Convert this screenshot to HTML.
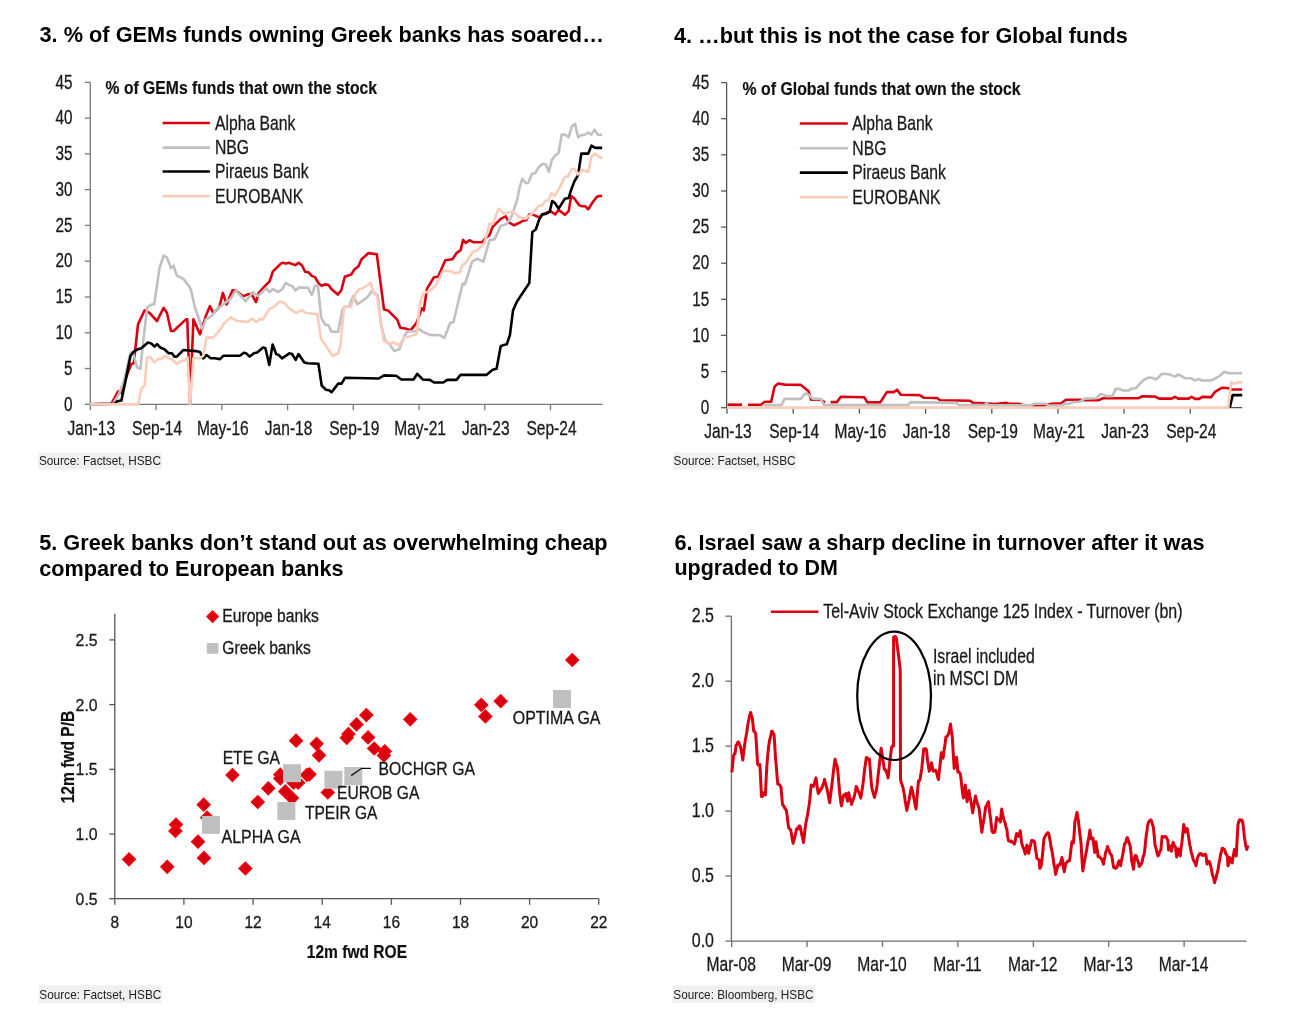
<!DOCTYPE html>
<html><head><meta charset="utf-8"><title>Greek banks charts</title>
<style>
html,body{margin:0;padding:0;background:#fff;}
body{width:1298px;height:1028px;overflow:hidden;}
svg{display:block;font-family:"Liberation Sans",Arial,sans-serif;}
</style></head>
<body>
<svg width="1298" height="1028" viewBox="0 0 1298 1028">
<rect width="1298" height="1028" fill="#fff"/>
<text x="39.5" y="42.3" font-size="21.7" font-weight="bold" text-anchor="start" textLength="564.4" lengthAdjust="spacingAndGlyphs" fill="#000">3. % of GEMs funds owning Greek banks has soared…</text>
<text x="674.0" y="42.7" font-size="21.7" font-weight="bold" text-anchor="start" textLength="453.8" lengthAdjust="spacingAndGlyphs" fill="#000">4. …but this is not the case for Global funds</text>
<text x="39.2" y="550.3" font-size="21.7" font-weight="bold" text-anchor="start" textLength="568.4" lengthAdjust="spacingAndGlyphs" fill="#000">5. Greek banks don’t stand out as overwhelming cheap</text>
<text x="39.2" y="575.5" font-size="21.7" font-weight="bold" text-anchor="start" textLength="304.3" lengthAdjust="spacingAndGlyphs" fill="#000">compared to European banks</text>
<text x="674.4" y="550.1" font-size="21.7" font-weight="bold" text-anchor="start" textLength="530.2" lengthAdjust="spacingAndGlyphs" fill="#000">6. Israel saw a sharp decline in turnover after it was</text>
<text x="674.4" y="575.4" font-size="21.7" font-weight="bold" text-anchor="start" textLength="163.5" lengthAdjust="spacingAndGlyphs" fill="#000">upgraded to DM</text>
<line x1="90.3" y1="82.3" x2="90.3" y2="404.3" stroke="#7a7a7a" stroke-width="1.3"/>
<line x1="90.3" y1="404.3" x2="602.6" y2="404.3" stroke="#7a7a7a" stroke-width="1.3"/>
<line x1="84.8" y1="82.3" x2="90.3" y2="82.3" stroke="#7a7a7a" stroke-width="1.3"/>
<text x="72.6" y="88.5" font-size="19.72" text-anchor="end" textLength="17.0" lengthAdjust="spacingAndGlyphs" fill="#1a1a1a" stroke="#1a1a1a" stroke-width="0.3">45</text>
<line x1="84.8" y1="118.1" x2="90.3" y2="118.1" stroke="#7a7a7a" stroke-width="1.3"/>
<text x="72.6" y="124.3" font-size="19.72" text-anchor="end" textLength="17.0" lengthAdjust="spacingAndGlyphs" fill="#1a1a1a" stroke="#1a1a1a" stroke-width="0.3">40</text>
<line x1="84.8" y1="153.9" x2="90.3" y2="153.9" stroke="#7a7a7a" stroke-width="1.3"/>
<text x="72.6" y="160.1" font-size="19.72" text-anchor="end" textLength="17.0" lengthAdjust="spacingAndGlyphs" fill="#1a1a1a" stroke="#1a1a1a" stroke-width="0.3">35</text>
<line x1="84.8" y1="189.6" x2="90.3" y2="189.6" stroke="#7a7a7a" stroke-width="1.3"/>
<text x="72.6" y="195.8" font-size="19.72" text-anchor="end" textLength="17.0" lengthAdjust="spacingAndGlyphs" fill="#1a1a1a" stroke="#1a1a1a" stroke-width="0.3">30</text>
<line x1="84.8" y1="225.4" x2="90.3" y2="225.4" stroke="#7a7a7a" stroke-width="1.3"/>
<text x="72.6" y="231.6" font-size="19.72" text-anchor="end" textLength="17.0" lengthAdjust="spacingAndGlyphs" fill="#1a1a1a" stroke="#1a1a1a" stroke-width="0.3">25</text>
<line x1="84.8" y1="261.2" x2="90.3" y2="261.2" stroke="#7a7a7a" stroke-width="1.3"/>
<text x="72.6" y="267.4" font-size="19.72" text-anchor="end" textLength="17.0" lengthAdjust="spacingAndGlyphs" fill="#1a1a1a" stroke="#1a1a1a" stroke-width="0.3">20</text>
<line x1="84.8" y1="297.0" x2="90.3" y2="297.0" stroke="#7a7a7a" stroke-width="1.3"/>
<text x="72.6" y="303.2" font-size="19.72" text-anchor="end" textLength="17.0" lengthAdjust="spacingAndGlyphs" fill="#1a1a1a" stroke="#1a1a1a" stroke-width="0.3">15</text>
<line x1="84.8" y1="332.8" x2="90.3" y2="332.8" stroke="#7a7a7a" stroke-width="1.3"/>
<text x="72.6" y="339.0" font-size="19.72" text-anchor="end" textLength="17.0" lengthAdjust="spacingAndGlyphs" fill="#1a1a1a" stroke="#1a1a1a" stroke-width="0.3">10</text>
<line x1="84.8" y1="368.5" x2="90.3" y2="368.5" stroke="#7a7a7a" stroke-width="1.3"/>
<text x="72.6" y="374.7" font-size="19.72" text-anchor="end" textLength="8.5" lengthAdjust="spacingAndGlyphs" fill="#1a1a1a" stroke="#1a1a1a" stroke-width="0.3">5</text>
<line x1="84.8" y1="404.3" x2="90.3" y2="404.3" stroke="#7a7a7a" stroke-width="1.3"/>
<text x="72.6" y="410.5" font-size="19.72" text-anchor="end" textLength="8.5" lengthAdjust="spacingAndGlyphs" fill="#1a1a1a" stroke="#1a1a1a" stroke-width="0.3">0</text>
<line x1="90.3" y1="404.3" x2="90.3" y2="410.3" stroke="#7a7a7a" stroke-width="1.3"/>
<text x="91.3" y="434.5" font-size="19.53" text-anchor="middle" textLength="47.5" lengthAdjust="spacingAndGlyphs" fill="#1a1a1a" stroke="#1a1a1a" stroke-width="0.3">Jan-13</text>
<line x1="156.1" y1="404.3" x2="156.1" y2="410.3" stroke="#7a7a7a" stroke-width="1.3"/>
<text x="157.1" y="434.5" font-size="19.53" text-anchor="middle" textLength="50.1" lengthAdjust="spacingAndGlyphs" fill="#1a1a1a" stroke="#1a1a1a" stroke-width="0.3">Sep-14</text>
<line x1="221.8" y1="404.3" x2="221.8" y2="410.3" stroke="#7a7a7a" stroke-width="1.3"/>
<text x="222.8" y="434.5" font-size="19.53" text-anchor="middle" textLength="51.8" lengthAdjust="spacingAndGlyphs" fill="#1a1a1a" stroke="#1a1a1a" stroke-width="0.3">May-16</text>
<line x1="287.6" y1="404.3" x2="287.6" y2="410.3" stroke="#7a7a7a" stroke-width="1.3"/>
<text x="288.6" y="434.5" font-size="19.53" text-anchor="middle" textLength="47.5" lengthAdjust="spacingAndGlyphs" fill="#1a1a1a" stroke="#1a1a1a" stroke-width="0.3">Jan-18</text>
<line x1="353.3" y1="404.3" x2="353.3" y2="410.3" stroke="#7a7a7a" stroke-width="1.3"/>
<text x="354.3" y="434.5" font-size="19.53" text-anchor="middle" textLength="50.1" lengthAdjust="spacingAndGlyphs" fill="#1a1a1a" stroke="#1a1a1a" stroke-width="0.3">Sep-19</text>
<line x1="419.1" y1="404.3" x2="419.1" y2="410.3" stroke="#7a7a7a" stroke-width="1.3"/>
<text x="420.1" y="434.5" font-size="19.53" text-anchor="middle" textLength="51.8" lengthAdjust="spacingAndGlyphs" fill="#1a1a1a" stroke="#1a1a1a" stroke-width="0.3">May-21</text>
<line x1="484.8" y1="404.3" x2="484.8" y2="410.3" stroke="#7a7a7a" stroke-width="1.3"/>
<text x="485.8" y="434.5" font-size="19.53" text-anchor="middle" textLength="47.5" lengthAdjust="spacingAndGlyphs" fill="#1a1a1a" stroke="#1a1a1a" stroke-width="0.3">Jan-23</text>
<line x1="550.5" y1="404.3" x2="550.5" y2="410.3" stroke="#7a7a7a" stroke-width="1.3"/>
<text x="551.5" y="434.5" font-size="19.53" text-anchor="middle" textLength="50.1" lengthAdjust="spacingAndGlyphs" fill="#1a1a1a" stroke="#1a1a1a" stroke-width="0.3">Sep-24</text>
<text x="105.6" y="94.3" font-size="18.06" font-weight="bold" text-anchor="start" textLength="271.4" lengthAdjust="spacingAndGlyphs" fill="#111" stroke="#111" stroke-width="0.2">% of GEMs funds that own the stock</text>
<line x1="162.6" y1="123.0" x2="209.9" y2="123.0" stroke="#db0011" stroke-width="2.6"/>
<text x="215.0" y="129.7" font-size="19.53" text-anchor="start" textLength="80.4" lengthAdjust="spacingAndGlyphs" fill="#1a1a1a" stroke="#1a1a1a" stroke-width="0.3">Alpha Bank</text>
<line x1="162.6" y1="147.6" x2="209.9" y2="147.6" stroke="#c0c0c0" stroke-width="2.6"/>
<text x="215.0" y="154.1" font-size="19.53" text-anchor="start" textLength="34.1" lengthAdjust="spacingAndGlyphs" fill="#1a1a1a" stroke="#1a1a1a" stroke-width="0.3">NBG</text>
<line x1="162.6" y1="171.5" x2="209.9" y2="171.5" stroke="#000000" stroke-width="2.6"/>
<text x="215.0" y="178.4" font-size="19.53" text-anchor="start" textLength="93.5" lengthAdjust="spacingAndGlyphs" fill="#1a1a1a" stroke="#1a1a1a" stroke-width="0.3">Piraeus Bank</text>
<line x1="162.6" y1="196.1" x2="209.9" y2="196.1" stroke="#f9cdb9" stroke-width="2.6"/>
<text x="215.0" y="202.7" font-size="19.53" text-anchor="start" textLength="88.2" lengthAdjust="spacingAndGlyphs" fill="#1a1a1a" stroke="#1a1a1a" stroke-width="0.3">EUROBANK</text>
<rect x="38.4" y="452.6" width="123.4" height="17.0" fill="#f0f0f0"/>
<text x="38.9" y="465.3" font-size="13" text-anchor="start" textLength="122.1" lengthAdjust="spacingAndGlyphs" fill="#222">Source: Factset, HSBC</text>
<g>
<polyline points="90.0,404.2 111.5,403.7 118.1,391.3 121.0,393.0 125.0,380.0 131.3,364.0 133.8,363.2 138.0,324.4 144.6,310.3 149.5,312.8 157.0,321.0 163.6,307.8 166.9,312.8 171.0,331.0 173.5,331.0 186.0,319.4 187.3,319.4 190.1,403.7 193.4,319.4 200.0,334.3 205.8,316.1 209.9,306.2 213.2,312.8 219.1,307.8 222.9,292.9 226.6,304.5 232.4,290.4 235.7,290.4 243.1,296.2 247.3,294.6 251.4,293.8 256.0,302.0 258.8,292.9 264.6,286.3 269.6,281.3 272.9,271.4 280.0,264.5 282.3,262.8 285.8,263.6 288.8,262.8 295.2,265.1 298.7,262.8 302.2,265.7 305.1,271.8 308.6,272.4 311.8,275.9 315.0,277.1 318.5,283.2 321.7,285.8 325.0,284.4 328.5,285.0 331.4,289.0 337.8,294.6 341.3,290.2 344.8,276.8 351.2,274.6 354.3,269.5 358.4,266.4 361.5,259.3 368.6,253.1 376.8,254.2 384.0,309.4 388.0,310.4 397.2,319.6 400.3,327.8 406.4,328.8 410.5,330.4 416.7,322.6 421.8,308.3 423.8,310.4 426.9,288.9 434.0,277.3 438.1,276.7 445.3,260.3 452.4,259.3 456.5,253.1 460.6,250.1 463.1,239.9 465.7,242.9 469.5,240.2 473.2,242.2 482.3,242.2 485.4,238.2 489.5,235.1 492.6,226.9 500.7,218.8 505.8,216.3 508.9,222.4 514.0,225.3 520.0,222.5 523.2,220.6 526.3,220.2 529.5,214.3 532.6,214.3 539.0,217.4 543.4,214.3 550.3,211.1 555.4,214.3 558.6,209.9 564.9,214.7 568.7,211.1 571.2,196.0 574.4,198.5 578.8,204.8 581.9,206.3 585.1,206.3 588.3,209.2 592.7,202.3 596.5,197.2 599.0,196.0 602.2,196.0" fill="none" stroke="#db0011" stroke-width="2.6" stroke-linejoin="round" stroke-linecap="butt"/>
<polyline points="90.0,404.2 113.2,403.7 119.0,393.8 124.0,380.6 130.5,352.5 133.0,352.5 137.1,367.4 140.4,369.0 142.9,344.2 147.1,307.8 151.2,304.5 154.2,304.5 159.5,268.1 163.6,255.7 166.9,257.4 171.0,268.1 173.5,265.6 176.8,275.6 183.4,278.9 189.2,286.3 190.9,289.6 195.0,307.8 202.5,329.3 205.8,319.4 211.6,316.1 215.0,311.1 224.9,302.9 230.7,298.7 235.7,290.4 245.6,301.2 253.0,292.1 258.0,296.2 266.3,288.0 269.6,292.1 272.9,288.8 277.9,292.1 282.3,289.0 285.8,282.9 289.3,285.2 292.3,286.1 295.5,290.5 298.7,287.6 308.0,287.6 311.8,294.9 315.0,285.8 317.9,285.8 321.2,317.7 325.0,324.4 328.3,325.2 331.6,331.8 338.2,331.8 342.4,309.5 345.1,306.3 349.2,306.3 353.3,296.1 357.4,304.3 367.6,297.1 371.7,291.0 377.8,295.1 380.9,324.7 385.0,340.0 390.1,345.1 394.2,350.9 399.3,349.2 404.4,335.9 407.5,331.2 415.6,331.2 419.7,329.2 422.8,331.8 429.9,334.9 440.2,335.3 444.3,338.0 450.4,322.6 453.4,322.2 462.6,283.8 465.0,284.1 472.1,261.6 477.2,258.6 483.4,261.6 489.5,240.2 494.6,239.2 500.7,225.9 506.8,223.9 511.9,215.7 517.0,200.4 520.0,185.8 522.3,178.9 525.7,183.1 528.2,182.7 532.0,173.8 535.2,173.2 539.0,166.9 542.8,163.7 545.9,164.4 548.8,171.9 551.6,160.6 554.8,156.1 558.6,153.0 561.7,134.6 564.9,134.6 568.7,137.2 571.8,126.4 575.0,123.9 578.1,137.2 581.3,135.0 584.5,135.0 588.3,132.5 591.4,134.6 594.6,129.6 597.7,134.6 602.2,135.0" fill="none" stroke="#c0c0c0" stroke-width="2.6" stroke-linejoin="round" stroke-linecap="butt"/>
<polyline points="90.0,404.2 114.8,403.7 117.3,401.3 121.4,400.4 125.6,380.6 130.5,355.8 133.8,351.6 138.0,349.2 141.3,348.3 147.9,342.5 151.2,343.4 154.5,346.7 157.0,344.2 160.3,347.5 164.4,349.2 168.6,353.3 171.9,353.3 174.4,356.6 176.8,356.6 183.4,350.0 195.9,351.1 200.0,352.1 203.3,358.3 206.6,355.0 210.7,358.3 215.0,358.3 220.0,359.1 223.3,355.8 239.8,355.8 243.9,352.8 246.0,353.3 249.7,356.6 253.9,353.3 257.2,352.5 263.0,347.5 265.4,348.3 269.3,364.9 272.6,344.5 276.2,354.1 278.7,355.0 282.0,358.3 289.4,353.3 292.0,354.0 295.7,359.9 298.5,354.1 304.3,362.4 307.6,363.2 318.4,363.7 321.7,385.5 325.8,389.7 329.1,390.2 331.6,392.2 338.2,383.6 341.5,383.6 345.1,377.8 378.8,378.5 384.0,375.4 396.2,375.8 401.3,379.5 413.6,379.5 417.3,373.8 422.8,379.5 429.9,379.9 434.0,382.5 443.2,382.5 447.3,379.9 456.5,379.9 460.6,374.8 486.4,374.9 492.6,369.8 496.6,368.8 500.7,346.3 503.8,344.9 506.8,344.3 509.9,335.1 513.0,310.6 517.0,301.4 529.3,283.1 532.3,232.0 535.8,229.5 539.0,220.0 542.1,214.3 545.9,213.9 549.7,211.8 552.2,201.0 554.8,202.9 558.6,208.6 564.9,198.7 568.7,197.9 571.2,189.6 574.4,181.4 578.1,175.1 581.3,153.6 588.3,153.6 591.4,145.6 595.2,147.9 602.2,147.9" fill="none" stroke="#000000" stroke-width="2.6" stroke-linejoin="round" stroke-linecap="butt"/>
<polyline points="90.0,404.4 138.0,404.4 141.3,388.9 144.6,385.5 147.1,357.4 150.4,357.4 154.5,362.4 157.8,359.1 161.0,359.1 165.3,355.8 168.5,358.0 172.7,359.9 176.8,364.0 180.1,361.6 185.1,359.9 187.6,357.4 190.1,404.4 193.4,358.3 200.0,358.3 203.3,355.8 206.6,337.6 213.2,337.6 219.1,331.0 224.1,323.5 230.7,317.4 237.3,321.0 248.1,321.9 252.2,318.6 256.3,321.9 259.7,319.4 263.0,319.4 269.6,308.6 272.9,307.8 279.5,301.5 284.5,302.9 288.6,307.8 296.0,312.8 301.8,310.3 305.1,312.8 317.5,314.4 320.9,338.4 325.8,345.9 332.4,355.8 338.2,353.3 340.5,345.0 344.1,306.3 346.1,306.3 351.2,307.3 355.3,294.0 359.4,288.9 363.5,287.9 370.7,282.8 373.7,294.0 376.8,295.1 383.9,341.0 390.1,344.1 393.1,342.1 399.3,345.5 404.4,337.0 409.5,336.5 416.7,333.9 418.7,314.5 420.7,300.2 423.8,293.0 430.0,291.0 436.1,284.8 443.2,270.5 451.4,271.5 454.5,273.2 459.6,272.6 462.6,265.0 465.0,263.7 473.2,251.4 477.2,250.4 484.4,243.3 489.5,223.9 492.6,223.9 498.7,208.6 503.8,213.7 506.8,212.7 513.0,211.6 520.0,217.4 525.7,218.7 532.6,213.0 538.3,206.1 542.1,205.4 545.3,200.8 548.4,200.4 551.6,193.2 554.8,196.0 559.2,188.4 564.9,177.0 568.0,176.4 571.8,168.8 575.0,169.4 578.1,174.5 581.9,170.0 588.3,171.9 591.4,156.8 594.6,153.6 602.2,158.7" fill="none" stroke="#f9cdb9" stroke-width="2.6" stroke-linejoin="round" stroke-linecap="butt"/>
</g>
<line x1="726.6" y1="82.6" x2="726.6" y2="407.7" stroke="#555555" stroke-width="1.3"/>
<line x1="726.6" y1="407.7" x2="1242.2" y2="407.7" stroke="#555555" stroke-width="1.3"/>
<line x1="721.1" y1="82.6" x2="726.6" y2="82.6" stroke="#555555" stroke-width="1.3"/>
<text x="709.3" y="88.8" font-size="19.72" text-anchor="end" textLength="17.0" lengthAdjust="spacingAndGlyphs" fill="#1a1a1a" stroke="#1a1a1a" stroke-width="0.3">45</text>
<line x1="721.1" y1="118.7" x2="726.6" y2="118.7" stroke="#555555" stroke-width="1.3"/>
<text x="709.3" y="124.9" font-size="19.72" text-anchor="end" textLength="17.0" lengthAdjust="spacingAndGlyphs" fill="#1a1a1a" stroke="#1a1a1a" stroke-width="0.3">40</text>
<line x1="721.1" y1="154.8" x2="726.6" y2="154.8" stroke="#555555" stroke-width="1.3"/>
<text x="709.3" y="161.0" font-size="19.72" text-anchor="end" textLength="17.0" lengthAdjust="spacingAndGlyphs" fill="#1a1a1a" stroke="#1a1a1a" stroke-width="0.3">35</text>
<line x1="721.1" y1="191.0" x2="726.6" y2="191.0" stroke="#555555" stroke-width="1.3"/>
<text x="709.3" y="197.2" font-size="19.72" text-anchor="end" textLength="17.0" lengthAdjust="spacingAndGlyphs" fill="#1a1a1a" stroke="#1a1a1a" stroke-width="0.3">30</text>
<line x1="721.1" y1="227.1" x2="726.6" y2="227.1" stroke="#555555" stroke-width="1.3"/>
<text x="709.3" y="233.3" font-size="19.72" text-anchor="end" textLength="17.0" lengthAdjust="spacingAndGlyphs" fill="#1a1a1a" stroke="#1a1a1a" stroke-width="0.3">25</text>
<line x1="721.1" y1="263.2" x2="726.6" y2="263.2" stroke="#555555" stroke-width="1.3"/>
<text x="709.3" y="269.4" font-size="19.72" text-anchor="end" textLength="17.0" lengthAdjust="spacingAndGlyphs" fill="#1a1a1a" stroke="#1a1a1a" stroke-width="0.3">20</text>
<line x1="721.1" y1="299.3" x2="726.6" y2="299.3" stroke="#555555" stroke-width="1.3"/>
<text x="709.3" y="305.5" font-size="19.72" text-anchor="end" textLength="17.0" lengthAdjust="spacingAndGlyphs" fill="#1a1a1a" stroke="#1a1a1a" stroke-width="0.3">15</text>
<line x1="721.1" y1="335.4" x2="726.6" y2="335.4" stroke="#555555" stroke-width="1.3"/>
<text x="709.3" y="341.6" font-size="19.72" text-anchor="end" textLength="17.0" lengthAdjust="spacingAndGlyphs" fill="#1a1a1a" stroke="#1a1a1a" stroke-width="0.3">10</text>
<line x1="721.1" y1="371.6" x2="726.6" y2="371.6" stroke="#555555" stroke-width="1.3"/>
<text x="709.3" y="377.8" font-size="19.72" text-anchor="end" textLength="8.5" lengthAdjust="spacingAndGlyphs" fill="#1a1a1a" stroke="#1a1a1a" stroke-width="0.3">5</text>
<line x1="721.1" y1="407.7" x2="726.6" y2="407.7" stroke="#555555" stroke-width="1.3"/>
<text x="709.3" y="413.9" font-size="19.72" text-anchor="end" textLength="8.5" lengthAdjust="spacingAndGlyphs" fill="#1a1a1a" stroke="#1a1a1a" stroke-width="0.3">0</text>
<line x1="727.0" y1="407.7" x2="727.0" y2="413.7" stroke="#555555" stroke-width="1.3"/>
<text x="728.0" y="438.0" font-size="19.53" text-anchor="middle" textLength="47.5" lengthAdjust="spacingAndGlyphs" fill="#1a1a1a" stroke="#1a1a1a" stroke-width="0.3">Jan-13</text>
<line x1="793.2" y1="407.7" x2="793.2" y2="413.7" stroke="#555555" stroke-width="1.3"/>
<text x="794.2" y="438.0" font-size="19.53" text-anchor="middle" textLength="50.1" lengthAdjust="spacingAndGlyphs" fill="#1a1a1a" stroke="#1a1a1a" stroke-width="0.3">Sep-14</text>
<line x1="859.4" y1="407.7" x2="859.4" y2="413.7" stroke="#555555" stroke-width="1.3"/>
<text x="860.4" y="438.0" font-size="19.53" text-anchor="middle" textLength="51.8" lengthAdjust="spacingAndGlyphs" fill="#1a1a1a" stroke="#1a1a1a" stroke-width="0.3">May-16</text>
<line x1="925.6" y1="407.7" x2="925.6" y2="413.7" stroke="#555555" stroke-width="1.3"/>
<text x="926.6" y="438.0" font-size="19.53" text-anchor="middle" textLength="47.5" lengthAdjust="spacingAndGlyphs" fill="#1a1a1a" stroke="#1a1a1a" stroke-width="0.3">Jan-18</text>
<line x1="991.8" y1="407.7" x2="991.8" y2="413.7" stroke="#555555" stroke-width="1.3"/>
<text x="992.8" y="438.0" font-size="19.53" text-anchor="middle" textLength="50.1" lengthAdjust="spacingAndGlyphs" fill="#1a1a1a" stroke="#1a1a1a" stroke-width="0.3">Sep-19</text>
<line x1="1058.0" y1="407.7" x2="1058.0" y2="413.7" stroke="#555555" stroke-width="1.3"/>
<text x="1059.0" y="438.0" font-size="19.53" text-anchor="middle" textLength="51.8" lengthAdjust="spacingAndGlyphs" fill="#1a1a1a" stroke="#1a1a1a" stroke-width="0.3">May-21</text>
<line x1="1124.1" y1="407.7" x2="1124.1" y2="413.7" stroke="#555555" stroke-width="1.3"/>
<text x="1125.1" y="438.0" font-size="19.53" text-anchor="middle" textLength="47.5" lengthAdjust="spacingAndGlyphs" fill="#1a1a1a" stroke="#1a1a1a" stroke-width="0.3">Jan-23</text>
<line x1="1190.3" y1="407.7" x2="1190.3" y2="413.7" stroke="#555555" stroke-width="1.3"/>
<text x="1191.3" y="438.0" font-size="19.53" text-anchor="middle" textLength="50.1" lengthAdjust="spacingAndGlyphs" fill="#1a1a1a" stroke="#1a1a1a" stroke-width="0.3">Sep-24</text>
<text x="742.6" y="95.4" font-size="18.06" font-weight="bold" text-anchor="start" textLength="278.0" lengthAdjust="spacingAndGlyphs" fill="#111" stroke="#111" stroke-width="0.2">% of Global funds that own the stock</text>
<line x1="799.8" y1="123.5" x2="847.8" y2="123.5" stroke="#db0011" stroke-width="2.6"/>
<text x="852.3" y="130.3" font-size="19.53" text-anchor="start" textLength="80.4" lengthAdjust="spacingAndGlyphs" fill="#1a1a1a" stroke="#1a1a1a" stroke-width="0.3">Alpha Bank</text>
<line x1="799.8" y1="148.3" x2="847.8" y2="148.3" stroke="#c0c0c0" stroke-width="2.6"/>
<text x="852.3" y="154.8" font-size="19.53" text-anchor="start" textLength="34.1" lengthAdjust="spacingAndGlyphs" fill="#1a1a1a" stroke="#1a1a1a" stroke-width="0.3">NBG</text>
<line x1="799.8" y1="172.6" x2="847.8" y2="172.6" stroke="#000000" stroke-width="2.6"/>
<text x="852.3" y="179.1" font-size="19.53" text-anchor="start" textLength="93.5" lengthAdjust="spacingAndGlyphs" fill="#1a1a1a" stroke="#1a1a1a" stroke-width="0.3">Piraeus Bank</text>
<line x1="799.8" y1="197.2" x2="847.8" y2="197.2" stroke="#f9cdb9" stroke-width="2.6"/>
<text x="852.3" y="203.9" font-size="19.53" text-anchor="start" textLength="88.2" lengthAdjust="spacingAndGlyphs" fill="#1a1a1a" stroke="#1a1a1a" stroke-width="0.3">EUROBANK</text>
<rect x="673.0" y="452.5" width="123.3" height="16.9" fill="#f0f0f0"/>
<text x="673.5" y="465.2" font-size="13" text-anchor="start" textLength="122.1" lengthAdjust="spacingAndGlyphs" fill="#222">Source: Factset, HSBC</text>
<polyline points="727.6,404.7 742.1,404.7" fill="none" stroke="#db0011" stroke-width="2.6" stroke-linejoin="round" stroke-linecap="butt"/>
<polyline points="748.0,404.7 761.0,404.7 764.8,401.8 771.2,401.8 774.5,386.7 778.2,383.5 784.7,384.6 800.9,384.9 808.4,391.0 811.1,399.7 820.3,399.7 825.2,402.4" fill="none" stroke="#db0011" stroke-width="2.6" stroke-linejoin="round" stroke-linecap="butt"/>
<polyline points="830.6,402.1 837.0,402.1 840.8,396.7 864.2,397.2 867.4,402.4 880.3,402.4 886.8,392.1 893.8,392.1 897.1,389.7 900.8,394.8 919.7,395.1 924.0,397.8 937.0,398.0 940.2,400.2 969.9,400.7 973.1,402.9 984.4,403.2 995.0,404.0 1006.2,402.9 1009.4,403.7 1019.1,403.7 1022.4,405.1 1032.1,405.6 1043.9,405.6 1051.5,403.7 1061.2,403.4 1066.0,399.7 1080.6,399.7 1083.8,400.2 1098.9,400.2 1102.7,398.3 1138.5,398.1 1142.5,396.3 1155.1,396.6 1159.1,398.6 1171.6,398.6 1175.1,396.9 1178.1,398.6 1188.6,398.6 1191.6,396.9 1195.1,398.9 1199.1,398.9 1202.1,396.9 1211.1,397.1 1215.1,391.8 1221.7,387.8 1227.7,388.0 1231.7,389.5 1242.2,389.5" fill="none" stroke="#db0011" stroke-width="2.6" stroke-linejoin="round" stroke-linecap="butt"/>
<polyline points="764.2,405.1 781.5,405.1 784.7,398.9 800.9,398.9 805.2,393.5 807.9,394.3 813.3,398.9 820.9,398.9 824.1,405.1 907.9,405.1 910.5,402.1 956.4,402.9 959.1,405.1 984.4,405.1 986.6,403.4 988.8,405.1 1031.0,405.4 1034.2,403.7 1046.1,403.7 1048.8,405.6 1060.7,405.6 1064.4,404.0 1069.3,403.7 1073.1,402.1 1079.5,401.8 1084.9,398.6 1096.2,398.3 1100.0,394.3 1102.7,394.3 1106.0,396.1 1112.4,396.1 1115.7,388.9 1119.4,388.9 1123.0,390.5 1128.5,390.5 1132.0,388.5 1135.5,388.5 1141.5,382.0 1144.5,379.5 1149.0,377.5 1152.0,377.8 1156.1,379.5 1162.1,373.8 1169.1,374.2 1173.1,376.2 1175.1,376.5 1178.6,374.5 1185.1,378.2 1191.1,378.2 1195.1,380.5 1198.6,378.8 1201.6,380.5 1211.1,380.5 1217.1,377.5 1220.2,375.5 1224.2,371.8 1228.7,373.2 1242.2,373.2" fill="none" stroke="#c0c0c0" stroke-width="2.6" stroke-linejoin="round" stroke-linecap="butt"/>
<polyline points="1229.7,407.6 1232.7,395.1 1242.2,395.1" fill="none" stroke="#000000" stroke-width="2.6" stroke-linejoin="round" stroke-linecap="butt"/>
<polyline points="727.0,407.6 1228.2,407.6 1231.2,382.0 1232.7,383.0 1234.2,384.0 1238.2,382.2 1242.2,382.2" fill="none" stroke="#f9cdb9" stroke-width="2.6" stroke-linejoin="round" stroke-linecap="butt"/>
<line x1="114.8" y1="613.8" x2="114.8" y2="898.6" stroke="#555555" stroke-width="1.3"/>
<line x1="114.8" y1="898.6" x2="598.8" y2="898.6" stroke="#555555" stroke-width="1.3"/>
<line x1="109.3" y1="639.9" x2="114.8" y2="639.9" stroke="#555555" stroke-width="1.3"/>
<text x="97.6" y="645.9" font-size="17.2" text-anchor="end" textLength="22.0" lengthAdjust="spacingAndGlyphs" fill="#1a1a1a" stroke="#1a1a1a" stroke-width="0.3">2.5</text>
<line x1="109.3" y1="704.6" x2="114.8" y2="704.6" stroke="#555555" stroke-width="1.3"/>
<text x="97.6" y="710.6" font-size="17.2" text-anchor="end" textLength="22.0" lengthAdjust="spacingAndGlyphs" fill="#1a1a1a" stroke="#1a1a1a" stroke-width="0.3">2.0</text>
<line x1="109.3" y1="769.3" x2="114.8" y2="769.3" stroke="#555555" stroke-width="1.3"/>
<text x="97.6" y="775.3" font-size="17.2" text-anchor="end" textLength="22.0" lengthAdjust="spacingAndGlyphs" fill="#1a1a1a" stroke="#1a1a1a" stroke-width="0.3">1.5</text>
<line x1="109.3" y1="834.0" x2="114.8" y2="834.0" stroke="#555555" stroke-width="1.3"/>
<text x="97.6" y="840.0" font-size="17.2" text-anchor="end" textLength="22.0" lengthAdjust="spacingAndGlyphs" fill="#1a1a1a" stroke="#1a1a1a" stroke-width="0.3">1.0</text>
<line x1="109.3" y1="898.7" x2="114.8" y2="898.7" stroke="#555555" stroke-width="1.3"/>
<text x="97.6" y="904.7" font-size="17.2" text-anchor="end" textLength="22.0" lengthAdjust="spacingAndGlyphs" fill="#1a1a1a" stroke="#1a1a1a" stroke-width="0.3">0.5</text>
<line x1="114.8" y1="898.6" x2="114.8" y2="904.8" stroke="#555555" stroke-width="1.3"/>
<text x="114.8" y="928.3" font-size="17.2" text-anchor="middle" textLength="8.6" lengthAdjust="spacingAndGlyphs" fill="#1a1a1a" stroke="#1a1a1a" stroke-width="0.3">8</text>
<line x1="183.9" y1="898.6" x2="183.9" y2="904.8" stroke="#555555" stroke-width="1.3"/>
<text x="183.9" y="928.3" font-size="17.2" text-anchor="middle" textLength="17.2" lengthAdjust="spacingAndGlyphs" fill="#1a1a1a" stroke="#1a1a1a" stroke-width="0.3">10</text>
<line x1="253.1" y1="898.6" x2="253.1" y2="904.8" stroke="#555555" stroke-width="1.3"/>
<text x="253.1" y="928.3" font-size="17.2" text-anchor="middle" textLength="17.2" lengthAdjust="spacingAndGlyphs" fill="#1a1a1a" stroke="#1a1a1a" stroke-width="0.3">12</text>
<line x1="322.2" y1="898.6" x2="322.2" y2="904.8" stroke="#555555" stroke-width="1.3"/>
<text x="322.2" y="928.3" font-size="17.2" text-anchor="middle" textLength="17.2" lengthAdjust="spacingAndGlyphs" fill="#1a1a1a" stroke="#1a1a1a" stroke-width="0.3">14</text>
<line x1="391.4" y1="898.6" x2="391.4" y2="904.8" stroke="#555555" stroke-width="1.3"/>
<text x="391.4" y="928.3" font-size="17.2" text-anchor="middle" textLength="17.2" lengthAdjust="spacingAndGlyphs" fill="#1a1a1a" stroke="#1a1a1a" stroke-width="0.3">16</text>
<line x1="460.5" y1="898.6" x2="460.5" y2="904.8" stroke="#555555" stroke-width="1.3"/>
<text x="460.5" y="928.3" font-size="17.2" text-anchor="middle" textLength="17.2" lengthAdjust="spacingAndGlyphs" fill="#1a1a1a" stroke="#1a1a1a" stroke-width="0.3">18</text>
<line x1="529.6" y1="898.6" x2="529.6" y2="904.8" stroke="#555555" stroke-width="1.3"/>
<text x="529.6" y="928.3" font-size="17.2" text-anchor="middle" textLength="17.2" lengthAdjust="spacingAndGlyphs" fill="#1a1a1a" stroke="#1a1a1a" stroke-width="0.3">20</text>
<line x1="598.8" y1="898.6" x2="598.8" y2="904.8" stroke="#555555" stroke-width="1.3"/>
<text x="598.8" y="928.3" font-size="17.2" text-anchor="middle" textLength="17.2" lengthAdjust="spacingAndGlyphs" fill="#1a1a1a" stroke="#1a1a1a" stroke-width="0.3">22</text>
<text x="356.9" y="958.2" font-size="18.4" font-weight="bold" text-anchor="middle" textLength="100.3" lengthAdjust="spacingAndGlyphs" fill="#111" stroke="#111" stroke-width="0.2">12m fwd ROE</text>
<text x="0" y="0" font-size="18.4" font-weight="bold" text-anchor="middle" textLength="92.7" lengthAdjust="spacingAndGlyphs" fill="#111" stroke="#111" stroke-width="0.2" transform="translate(74.3,757) rotate(-90)">12m fwd P/B</text>
<path d="M122.5,859.3L129.0,852.8L135.5,859.3L129.0,865.8Z" fill="#d60012" stroke="#f80008" stroke-width="1.2"/>
<path d="M160.7,866.8L167.2,860.3L173.7,866.8L167.2,873.3Z" fill="#d60012" stroke="#f80008" stroke-width="1.2"/>
<path d="M197.5,857.9L204.0,851.4L210.5,857.9L204.0,864.4Z" fill="#d60012" stroke="#f80008" stroke-width="1.2"/>
<path d="M238.9,868.5L245.4,862.0L251.9,868.5L245.4,875.0Z" fill="#d60012" stroke="#f80008" stroke-width="1.2"/>
<path d="M191.5,841.7L198.0,835.2L204.5,841.7L198.0,848.2Z" fill="#d60012" stroke="#f80008" stroke-width="1.2"/>
<path d="M169.5,824.6L176.0,818.1L182.5,824.6L176.0,831.1Z" fill="#d60012" stroke="#f80008" stroke-width="1.2"/>
<path d="M168.9,831.0L175.4,824.5L181.9,831.0L175.4,837.5Z" fill="#d60012" stroke="#f80008" stroke-width="1.2"/>
<path d="M197.2,804.7L203.7,798.2L210.2,804.7L203.7,811.2Z" fill="#d60012" stroke="#f80008" stroke-width="1.2"/>
<path d="M200.6,817.6L207.1,811.1L213.6,817.6L207.1,824.1Z" fill="#d60012" stroke="#f80008" stroke-width="1.2"/>
<path d="M225.9,775.1L232.4,768.6L238.9,775.1L232.4,781.6Z" fill="#d60012" stroke="#f80008" stroke-width="1.2"/>
<path d="M251.3,802.0L257.8,795.5L264.3,802.0L257.8,808.5Z" fill="#d60012" stroke="#f80008" stroke-width="1.2"/>
<path d="M261.8,788.3L268.3,781.8L274.8,788.3L268.3,794.8Z" fill="#d60012" stroke="#f80008" stroke-width="1.2"/>
<path d="M289.6,740.7L296.1,734.2L302.6,740.7L296.1,747.2Z" fill="#d60012" stroke="#f80008" stroke-width="1.2"/>
<path d="M310.1,743.8L316.6,737.3L323.1,743.8L316.6,750.3Z" fill="#d60012" stroke="#f80008" stroke-width="1.2"/>
<path d="M312.5,755.3L319.0,748.8L325.5,755.3L319.0,761.8Z" fill="#d60012" stroke="#f80008" stroke-width="1.2"/>
<path d="M300.5,774.9L307.0,768.4L313.5,774.9L307.0,781.4Z" fill="#d60012" stroke="#f80008" stroke-width="1.2"/>
<path d="M303.0,774.3L309.5,767.8L316.0,774.3L309.5,780.8Z" fill="#d60012" stroke="#f80008" stroke-width="1.2"/>
<path d="M278.8,791.4L285.3,784.9L291.8,791.4L285.3,797.9Z" fill="#d60012" stroke="#f80008" stroke-width="1.2"/>
<path d="M285.5,798.1L292.0,791.6L298.5,798.1L292.0,804.6Z" fill="#d60012" stroke="#f80008" stroke-width="1.2"/>
<path d="M273.8,774.7L280.3,768.2L286.8,774.7L280.3,781.2Z" fill="#d60012" stroke="#f80008" stroke-width="1.2"/>
<path d="M273.8,778.4L280.3,771.9L286.8,778.4L280.3,784.9Z" fill="#d60012" stroke="#f80008" stroke-width="1.2"/>
<path d="M287.1,782.7L293.6,776.2L300.1,782.7L293.6,789.2Z" fill="#d60012" stroke="#f80008" stroke-width="1.2"/>
<path d="M291.7,782.7L298.2,776.2L304.7,782.7L298.2,789.2Z" fill="#d60012" stroke="#f80008" stroke-width="1.2"/>
<path d="M321.3,792.4L327.8,785.9L334.3,792.4L327.8,798.9Z" fill="#d60012" stroke="#f80008" stroke-width="1.2"/>
<path d="M359.8,715.1L366.3,708.6L372.8,715.1L366.3,721.6Z" fill="#d60012" stroke="#f80008" stroke-width="1.2"/>
<path d="M350.0,724.4L356.5,717.9L363.0,724.4L356.5,730.9Z" fill="#d60012" stroke="#f80008" stroke-width="1.2"/>
<path d="M342.0,734.0L348.5,727.5L355.0,734.0L348.5,740.5Z" fill="#d60012" stroke="#f80008" stroke-width="1.2"/>
<path d="M340.3,737.8L346.8,731.3L353.3,737.8L346.8,744.3Z" fill="#d60012" stroke="#f80008" stroke-width="1.2"/>
<path d="M361.6,737.4L368.1,730.9L374.6,737.4L368.1,743.9Z" fill="#d60012" stroke="#f80008" stroke-width="1.2"/>
<path d="M367.7,748.5L374.2,742.0L380.7,748.5L374.2,755.0Z" fill="#d60012" stroke="#f80008" stroke-width="1.2"/>
<path d="M378.3,751.3L384.8,744.8L391.3,751.3L384.8,757.8Z" fill="#d60012" stroke="#f80008" stroke-width="1.2"/>
<path d="M377.4,755.5L383.9,749.0L390.4,755.5L383.9,762.0Z" fill="#d60012" stroke="#f80008" stroke-width="1.2"/>
<path d="M403.7,719.3L410.2,712.8L416.7,719.3L410.2,725.8Z" fill="#d60012" stroke="#f80008" stroke-width="1.2"/>
<path d="M565.8,660.0L572.3,653.5L578.8,660.0L572.3,666.5Z" fill="#d60012" stroke="#f80008" stroke-width="1.2"/>
<path d="M494.2,701.2L500.7,694.7L507.2,701.2L500.7,707.7Z" fill="#d60012" stroke="#f80008" stroke-width="1.2"/>
<path d="M474.8,704.9L481.3,698.4L487.8,704.9L481.3,711.4Z" fill="#d60012" stroke="#f80008" stroke-width="1.2"/>
<path d="M478.9,716.4L485.4,709.9L491.9,716.4L485.4,722.9Z" fill="#d60012" stroke="#f80008" stroke-width="1.2"/>
<rect x="202.0" y="815.9" width="18" height="18" fill="#c0c0c0"/>
<rect x="283.0" y="764.2" width="18" height="18" fill="#c0c0c0"/>
<rect x="277.4" y="802.0" width="18" height="18" fill="#c0c0c0"/>
<rect x="324.4" y="770.8" width="18" height="18" fill="#c0c0c0"/>
<rect x="344.3" y="767.0" width="18" height="18" fill="#c0c0c0"/>
<rect x="553.0" y="690.0" width="18" height="18" fill="#c0c0c0"/>
<polyline points="351.2,775.6 361.7,768.3 371,768.3" fill="none" stroke="#111" stroke-width="1.3"/>
<text x="222.7" y="763.7" font-size="17.6" text-anchor="start" textLength="57.3" lengthAdjust="spacingAndGlyphs" fill="#1a1a1a" stroke="#1a1a1a" stroke-width="0.3">ETE GA</text>
<text x="221.5" y="842.9" font-size="17.6" text-anchor="start" textLength="79.2" lengthAdjust="spacingAndGlyphs" fill="#1a1a1a" stroke="#1a1a1a" stroke-width="0.3">ALPHA GA</text>
<text x="378.6" y="774.7" font-size="17.6" text-anchor="start" textLength="96.3" lengthAdjust="spacingAndGlyphs" fill="#1a1a1a" stroke="#1a1a1a" stroke-width="0.3">BOCHGR GA</text>
<text x="337.1" y="799.3" font-size="17.6" text-anchor="start" textLength="82.2" lengthAdjust="spacingAndGlyphs" fill="#1a1a1a" stroke="#1a1a1a" stroke-width="0.3">EUROB GA</text>
<text x="304.9" y="819.2" font-size="17.6" text-anchor="start" textLength="72.6" lengthAdjust="spacingAndGlyphs" fill="#1a1a1a" stroke="#1a1a1a" stroke-width="0.3">TPEIR GA</text>
<text x="512.8" y="724.3" font-size="17.6" text-anchor="start" textLength="87.6" lengthAdjust="spacingAndGlyphs" fill="#1a1a1a" stroke="#1a1a1a" stroke-width="0.3">OPTIMA GA</text>
<path d="M206.8,616.6L212.6,610.8L218.4,616.6L212.6,622.4Z" fill="#d60012" stroke="#f80008" stroke-width="1.2"/>
<rect x="206.8" y="643.0" width="11.6" height="10.8" fill="#c0c0c0"/>
<text x="222.3" y="622.4" font-size="17.6" text-anchor="start" textLength="96.6" lengthAdjust="spacingAndGlyphs" fill="#1a1a1a" stroke="#1a1a1a" stroke-width="0.3">Europe banks</text>
<text x="222.3" y="654.2" font-size="17.6" text-anchor="start" textLength="88.5" lengthAdjust="spacingAndGlyphs" fill="#1a1a1a" stroke="#1a1a1a" stroke-width="0.3">Greek banks</text>
<rect x="38.8" y="985.2" width="122.9" height="17.8" fill="#f0f0f0"/>
<text x="39.3" y="998.5" font-size="13" text-anchor="start" textLength="122.1" lengthAdjust="spacingAndGlyphs" fill="#222">Source: Factset, HSBC</text>
<line x1="731.4" y1="616.2" x2="731.4" y2="941.1" stroke="#6e6e6e" stroke-width="1.3"/>
<line x1="731.4" y1="941.1" x2="1246.6" y2="941.1" stroke="#6e6e6e" stroke-width="1.3"/>
<line x1="725.4" y1="616.2" x2="731.4" y2="616.2" stroke="#6e6e6e" stroke-width="1.3"/>
<text x="714.0" y="622.2" font-size="19.53" text-anchor="end" textLength="22.2" lengthAdjust="spacingAndGlyphs" fill="#1a1a1a" stroke="#1a1a1a" stroke-width="0.3">2.5</text>
<line x1="725.4" y1="681.2" x2="731.4" y2="681.2" stroke="#6e6e6e" stroke-width="1.3"/>
<text x="714.0" y="687.2" font-size="19.53" text-anchor="end" textLength="22.2" lengthAdjust="spacingAndGlyphs" fill="#1a1a1a" stroke="#1a1a1a" stroke-width="0.3">2.0</text>
<line x1="725.4" y1="746.2" x2="731.4" y2="746.2" stroke="#6e6e6e" stroke-width="1.3"/>
<text x="714.0" y="752.2" font-size="19.53" text-anchor="end" textLength="22.2" lengthAdjust="spacingAndGlyphs" fill="#1a1a1a" stroke="#1a1a1a" stroke-width="0.3">1.5</text>
<line x1="725.4" y1="811.1" x2="731.4" y2="811.1" stroke="#6e6e6e" stroke-width="1.3"/>
<text x="714.0" y="817.1" font-size="19.53" text-anchor="end" textLength="22.2" lengthAdjust="spacingAndGlyphs" fill="#1a1a1a" stroke="#1a1a1a" stroke-width="0.3">1.0</text>
<line x1="725.4" y1="876.1" x2="731.4" y2="876.1" stroke="#6e6e6e" stroke-width="1.3"/>
<text x="714.0" y="882.1" font-size="19.53" text-anchor="end" textLength="22.2" lengthAdjust="spacingAndGlyphs" fill="#1a1a1a" stroke="#1a1a1a" stroke-width="0.3">0.5</text>
<line x1="725.4" y1="941.1" x2="731.4" y2="941.1" stroke="#6e6e6e" stroke-width="1.3"/>
<text x="714.0" y="947.1" font-size="19.53" text-anchor="end" textLength="22.2" lengthAdjust="spacingAndGlyphs" fill="#1a1a1a" stroke="#1a1a1a" stroke-width="0.3">0.0</text>
<line x1="731.7" y1="941.1" x2="731.7" y2="946.9" stroke="#6e6e6e" stroke-width="1.3"/>
<text x="731.2" y="970.6" font-size="19.53" text-anchor="middle" textLength="49.5" lengthAdjust="spacingAndGlyphs" fill="#1a1a1a" stroke="#1a1a1a" stroke-width="0.3">Mar-08</text>
<line x1="807.1" y1="941.1" x2="807.1" y2="946.9" stroke="#6e6e6e" stroke-width="1.3"/>
<text x="806.6" y="970.6" font-size="19.53" text-anchor="middle" textLength="49.5" lengthAdjust="spacingAndGlyphs" fill="#1a1a1a" stroke="#1a1a1a" stroke-width="0.3">Mar-09</text>
<line x1="882.5" y1="941.1" x2="882.5" y2="946.9" stroke="#6e6e6e" stroke-width="1.3"/>
<text x="882.0" y="970.6" font-size="19.53" text-anchor="middle" textLength="49.5" lengthAdjust="spacingAndGlyphs" fill="#1a1a1a" stroke="#1a1a1a" stroke-width="0.3">Mar-10</text>
<line x1="957.9" y1="941.1" x2="957.9" y2="946.9" stroke="#6e6e6e" stroke-width="1.3"/>
<text x="957.4" y="970.6" font-size="19.53" text-anchor="middle" textLength="48.3" lengthAdjust="spacingAndGlyphs" fill="#1a1a1a" stroke="#1a1a1a" stroke-width="0.3">Mar-11</text>
<line x1="1033.3" y1="941.1" x2="1033.3" y2="946.9" stroke="#6e6e6e" stroke-width="1.3"/>
<text x="1032.8" y="970.6" font-size="19.53" text-anchor="middle" textLength="49.5" lengthAdjust="spacingAndGlyphs" fill="#1a1a1a" stroke="#1a1a1a" stroke-width="0.3">Mar-12</text>
<line x1="1108.7" y1="941.1" x2="1108.7" y2="946.9" stroke="#6e6e6e" stroke-width="1.3"/>
<text x="1108.2" y="970.6" font-size="19.53" text-anchor="middle" textLength="49.5" lengthAdjust="spacingAndGlyphs" fill="#1a1a1a" stroke="#1a1a1a" stroke-width="0.3">Mar-13</text>
<line x1="1184.1" y1="941.1" x2="1184.1" y2="946.9" stroke="#6e6e6e" stroke-width="1.3"/>
<text x="1183.6" y="970.6" font-size="19.53" text-anchor="middle" textLength="49.5" lengthAdjust="spacingAndGlyphs" fill="#1a1a1a" stroke="#1a1a1a" stroke-width="0.3">Mar-14</text>
<line x1="770.9" y1="611.7" x2="818.4" y2="611.7" stroke="#db0011" stroke-width="2.6"/>
<text x="823.3" y="618.0" font-size="19.34" text-anchor="start" textLength="359.2" lengthAdjust="spacingAndGlyphs" fill="#1a1a1a" stroke="#1a1a1a" stroke-width="0.3">Tel-Aviv Stock Exchange 125 Index - Turnover (bn)</text>
<polyline points="731.9,772.4 732.7,763.9 733.5,756.1 734.2,754.1 735.0,753.7 736.1,745.2 736.9,744.5 737.8,742.2 738.6,742.1 739.5,744.5 740.5,746.7 741.3,750.8 742.0,754.6 742.8,760.0 743.6,753.4 744.4,746.7 745.2,741.0 745.9,737.2 746.7,732.7 747.5,727.1 748.2,722.5 749.0,718.7 749.8,715.4 750.6,712.5 751.4,715.5 752.1,717.1 752.9,723.3 753.7,731.2 754.7,731.7 755.7,733.5 756.7,749.0 757.6,763.9 758.4,765.1 759.1,764.5 759.9,764.6 760.7,780.4 761.5,796.6 762.4,796.3 763.2,793.0 764.1,792.7 764.8,794.6 765.4,795.0 766.1,779.7 766.9,765.4 767.8,754.5 768.8,745.2 769.5,740.9 770.2,737.8 770.9,735.4 771.6,731.2 772.4,731.5 773.2,733.4 774.0,734.3 774.8,746.3 775.5,757.6 776.3,766.2 777.0,775.4 777.8,784.1 778.6,783.9 779.4,784.7 780.2,785.8 781.0,787.2 781.8,796.2 782.5,804.4 783.3,805.5 784.1,806.5 784.8,808.3 785.6,809.3 786.4,810.6 787.2,815.9 787.9,822.6 788.7,827.7 789.6,829.0 790.5,829.5 791.4,833.5 792.2,838.9 793.1,843.3 794.0,839.9 794.8,837.1 795.6,833.3 796.5,829.3 797.4,828.1 798.2,828.8 799.1,826.1 800.0,826.2 800.9,830.1 801.8,834.9 802.6,837.7 803.5,842.5 804.3,836.0 805.1,828.5 805.9,823.0 806.7,819.1 807.5,815.0 808.2,810.3 809.0,805.9 809.8,799.7 810.5,791.5 811.3,784.9 812.0,785.8 812.7,786.1 813.4,786.4 814.3,783.7 815.1,780.6 816.0,777.9 816.8,783.8 817.5,789.3 818.3,793.5 819.1,792.3 819.9,791.5 820.7,789.0 821.5,788.8 822.3,786.9 823.0,784.4 823.8,782.8 824.6,779.4 825.5,783.7 826.4,786.2 827.3,790.3 828.1,794.2 828.9,799.0 829.7,802.8 830.5,795.5 831.2,790.2 832.0,784.1 832.8,777.1 833.5,770.8 834.3,764.5 835.1,759.2 835.9,762.9 836.7,764.6 837.5,768.5 838.3,776.3 839.0,784.9 839.8,793.5 840.6,800.5 841.4,805.9 842.2,801.3 842.9,798.5 843.7,795.0 844.5,794.6 845.2,794.8 846.0,793.5 846.8,798.1 847.6,801.2 848.7,792.7 849.6,797.4 850.6,800.0 851.5,804.4 852.3,802.1 853.0,799.9 853.8,798.1 854.6,795.0 855.4,791.3 856.2,786.4 857.0,787.5 857.7,789.4 858.5,791.9 859.3,793.4 860.0,795.4 860.8,798.1 861.6,793.0 862.4,788.0 863.2,782.1 864.0,775.3 864.7,768.7 865.5,763.5 866.3,757.6 867.1,757.7 867.8,758.5 868.6,759.8 869.4,759.2 870.2,769.0 870.9,777.9 871.7,787.2 872.6,790.9 873.6,794.4 874.5,797.4 875.5,792.9 876.4,790.3 877.2,784.4 877.9,777.4 878.7,770.1 879.5,763.7 880.3,756.2 881.1,748.3 881.9,753.1 882.7,758.2 883.4,762.6 884.2,768.5 885.0,770.1 885.7,770.1 886.5,772.4 887.3,774.2 888.1,777.9 888.9,770.3 889.6,763.9 890.3,757.5 891.0,752.3 891.7,747.0 892.7,745.5 893.6,746.0 893.6,637.5 894.5,636.4 895.3,636.7 896.2,637.5 896.9,642.2 897.6,648.6 898.5,655.3 899.3,661.6 900.2,669.6 900.5,779.4 901.3,782.8 902.1,784.9 902.9,787.2 903.7,791.1 904.5,796.0 905.2,800.9 906.0,805.6 906.8,810.6 907.6,805.9 908.3,803.6 909.1,800.0 909.9,794.9 910.6,791.1 911.4,787.2 912.2,789.9 913.0,793.6 913.8,797.8 914.5,801.2 915.3,806.1 916.1,809.0 916.9,798.9 917.7,789.3 918.5,781.0 919.2,781.2 920.0,779.5 920.9,774.0 921.8,768.4 922.8,757.9 923.7,749.0 924.6,749.4 925.6,748.6 926.5,749.9 927.4,759.1 928.3,765.2 929.2,771.2 930.0,769.5 930.7,766.4 931.5,762.8 932.4,767.4 933.3,771.2 934.1,770.3 934.9,770.2 935.7,770.2 936.6,772.6 937.6,777.0 938.5,779.5 939.4,770.6 940.4,762.2 941.3,752.7 942.2,755.1 943.1,758.2 944.0,750.5 945.0,744.8 945.9,737.0 946.6,737.1 947.3,735.9 948.0,734.9 948.7,733.3 949.6,729.4 950.5,724.0 951.4,731.0 952.3,737.0 953.2,752.1 954.2,768.4 955.0,764.7 955.8,760.7 956.6,757.3 957.2,763.7 957.9,772.1 958.7,771.7 959.5,772.8 960.3,773.9 961.1,779.4 961.8,786.4 962.6,793.0 963.4,798.0 964.3,791.4 965.3,785.0 966.2,794.3 967.1,801.7 968.0,797.2 969.0,790.6 969.7,796.0 970.5,799.2 971.2,803.3 972.0,807.8 972.7,812.8 973.6,806.6 974.6,801.0 975.5,796.1 976.2,799.0 977.0,802.2 977.7,804.6 978.5,806.5 979.2,809.1 980.1,817.1 981.0,825.2 981.9,832.2 982.6,826.3 983.4,822.6 984.1,818.1 984.9,812.8 985.6,807.2 986.5,805.9 987.5,803.5 988.4,801.7 989.1,806.9 989.9,814.1 990.6,819.0 991.4,826.0 992.1,831.2 993.0,832.6 994.0,831.6 994.9,832.2 995.8,824.6 996.7,817.4 997.4,819.3 998.2,819.7 998.9,819.4 999.7,820.3 1000.4,822.0 1001.0,814.8 1001.7,809.1 1002.6,814.4 1003.5,818.0 1004.4,821.5 1005.2,822.9 1006.0,827.3 1006.9,829.4 1007.6,836.0 1008.4,840.5 1009.2,841.2 1010.0,840.9 1010.8,841.7 1011.6,841.1 1012.4,842.3 1013.3,842.2 1014.3,844.2 1015.1,841.7 1015.8,837.4 1016.6,833.5 1017.5,835.0 1018.4,836.3 1019.3,834.5 1020.2,830.8 1020.9,836.1 1021.5,841.7 1022.2,845.0 1023.0,847.3 1023.7,848.4 1024.5,851.0 1025.2,854.0 1026.1,849.1 1027.0,845.1 1027.8,848.6 1028.6,853.3 1029.7,848.5 1030.7,844.6 1031.6,840.4 1032.4,840.4 1033.2,841.2 1033.9,841.1 1034.7,842.4 1035.4,848.5 1036.1,852.5 1036.8,858.1 1037.6,858.7 1038.4,859.6 1039.2,860.1 1039.8,868.3 1040.7,867.1 1041.6,864.2 1042.4,855.6 1043.1,848.3 1043.9,839.0 1044.6,837.4 1045.4,835.9 1046.1,834.2 1047.0,834.0 1047.9,832.7 1048.8,833.5 1049.6,837.9 1050.3,841.9 1051.1,847.2 1052.1,851.6 1053.1,858.1 1053.9,864.2 1054.8,868.2 1055.6,874.4 1056.4,871.2 1057.1,868.6 1057.9,864.9 1058.6,865.0 1059.3,864.5 1060.0,864.9 1061.0,861.2 1062.0,857.4 1062.8,862.3 1063.5,867.6 1064.3,871.7 1065.2,866.4 1066.1,862.8 1066.9,862.4 1067.8,861.2 1068.7,860.8 1069.5,860.8 1070.3,855.0 1071.1,848.1 1071.9,841.7 1072.7,842.5 1073.5,843.0 1074.2,832.7 1074.9,821.3 1075.6,819.2 1076.3,815.2 1077.0,812.4 1077.7,816.4 1078.3,819.9 1079.2,828.1 1080.2,836.3 1081.1,844.4 1081.9,858.1 1082.8,871.0 1083.6,866.6 1084.3,862.5 1085.1,858.1 1085.8,854.0 1086.5,850.9 1087.2,846.2 1087.9,841.7 1088.9,836.7 1089.9,830.1 1090.6,835.5 1091.3,839.0 1092.2,838.0 1093.0,838.0 1093.8,845.4 1094.7,852.6 1095.3,848.1 1096.0,841.7 1096.7,847.4 1097.4,850.9 1098.1,856.7 1099.0,856.3 1099.9,857.5 1100.8,858.1 1101.7,859.2 1102.6,861.6 1103.5,864.2 1104.2,859.4 1104.9,856.8 1105.6,852.6 1106.6,850.2 1107.6,846.5 1108.3,849.4 1109.0,849.8 1109.7,852.6 1110.7,854.4 1111.7,855.3 1112.7,861.8 1113.7,867.6 1114.6,866.8 1115.6,868.4 1116.5,867.6 1117.4,866.4 1118.3,862.4 1119.2,860.8 1119.9,864.2 1120.6,865.6 1121.6,860.2 1122.6,855.3 1123.6,849.5 1124.6,843.8 1125.3,843.3 1126.0,841.4 1126.7,838.4 1127.4,837.6 1128.2,839.8 1128.9,842.4 1129.7,844.4 1130.4,847.2 1131.1,853.8 1131.8,861.7 1132.7,865.1 1133.5,869.3 1134.1,863.6 1134.7,857.0 1135.6,855.4 1136.4,855.9 1137.1,858.6 1137.8,861.0 1138.6,862.7 1139.3,866.4 1140.1,865.1 1140.9,864.7 1141.7,863.5 1142.4,860.5 1143.2,856.4 1143.9,855.3 1144.6,851.2 1145.4,843.7 1146.3,834.9 1146.9,831.5 1147.5,826.1 1148.4,822.6 1149.3,820.9 1150.1,820.4 1150.8,819.9 1151.6,820.9 1152.4,824.4 1153.3,826.7 1154.2,835.5 1155.1,845.4 1155.8,847.2 1156.5,850.5 1157.3,854.2 1158.0,855.9 1158.7,855.1 1159.5,852.4 1160.2,850.7 1160.9,850.0 1162.1,836.6 1162.8,837.5 1163.5,836.8 1164.3,837.0 1165.0,836.6 1165.7,836.6 1166.5,837.4 1167.2,839.6 1167.9,840.1 1168.5,850.0 1169.4,847.8 1170.3,846.0 1171.4,851.2 1172.3,845.9 1173.2,842.4 1174.0,844.9 1174.7,845.8 1175.5,847.1 1176.1,852.7 1176.7,857.0 1177.6,852.0 1178.4,848.9 1179.3,853.2 1180.2,855.9 1181.1,848.2 1181.9,842.4 1182.8,834.2 1183.7,824.4 1184.6,828.1 1185.4,832.0 1186.3,829.8 1187.2,828.4 1188.1,833.8 1188.9,838.9 1189.7,844.5 1190.5,847.8 1191.3,853.0 1192.1,854.7 1192.8,858.1 1193.6,860.5 1194.4,861.7 1195.2,863.2 1196.0,865.8 1197.1,859.4 1197.8,857.2 1198.5,855.5 1199.3,854.3 1200.0,853.5 1200.8,853.5 1201.5,854.0 1202.2,855.4 1203.0,855.3 1203.7,854.7 1204.5,855.0 1205.2,854.1 1205.9,854.7 1207.0,864.0 1207.8,862.9 1208.6,861.4 1209.4,861.7 1210.2,864.3 1210.9,866.8 1211.7,871.0 1212.4,874.4 1213.2,877.0 1213.9,879.1 1214.6,882.7 1215.3,880.0 1216.0,878.4 1216.8,874.0 1217.5,872.2 1218.2,868.5 1219.0,863.3 1219.8,859.1 1220.5,854.7 1221.3,852.2 1222.2,848.3 1223.0,848.5 1223.7,849.1 1224.5,849.5 1225.2,851.8 1226.0,854.3 1226.8,854.8 1227.5,857.0 1228.0,865.8 1228.9,862.4 1229.8,857.6 1230.6,859.8 1231.3,861.4 1232.1,862.9 1232.9,858.2 1233.7,853.6 1234.5,849.5 1235.3,851.7 1236.2,855.9 1237.1,839.6 1238.0,824.9 1238.8,821.4 1239.7,819.7 1240.4,820.7 1241.2,820.0 1241.9,820.2 1242.6,821.4 1243.5,828.4 1244.4,837.2 1245.2,842.1 1245.9,846.2 1246.7,849.5 1247.3,847.8 1247.9,845.4" fill="none" stroke="#db0011" stroke-width="3.0" stroke-linejoin="round" stroke-linecap="butt"/>
<ellipse cx="894.1" cy="695.8" rx="36.9" ry="64.2" fill="none" stroke="#000" stroke-width="2.2"/>
<text x="932.9" y="662.7" font-size="19.34" text-anchor="start" textLength="101.8" lengthAdjust="spacingAndGlyphs" fill="#1a1a1a" stroke="#1a1a1a" stroke-width="0.3">Israel included</text>
<text x="932.9" y="684.8" font-size="19.34" text-anchor="start" textLength="85.2" lengthAdjust="spacingAndGlyphs" fill="#1a1a1a" stroke="#1a1a1a" stroke-width="0.3">in MSCI DM</text>
<rect x="672.8" y="985.5" width="142.3" height="17.3" fill="#f0f0f0"/>
<text x="673.3" y="998.7" font-size="13" text-anchor="start" textLength="140.3" lengthAdjust="spacingAndGlyphs" fill="#222">Source: Bloomberg, HSBC</text>
</svg>
</body></html>
